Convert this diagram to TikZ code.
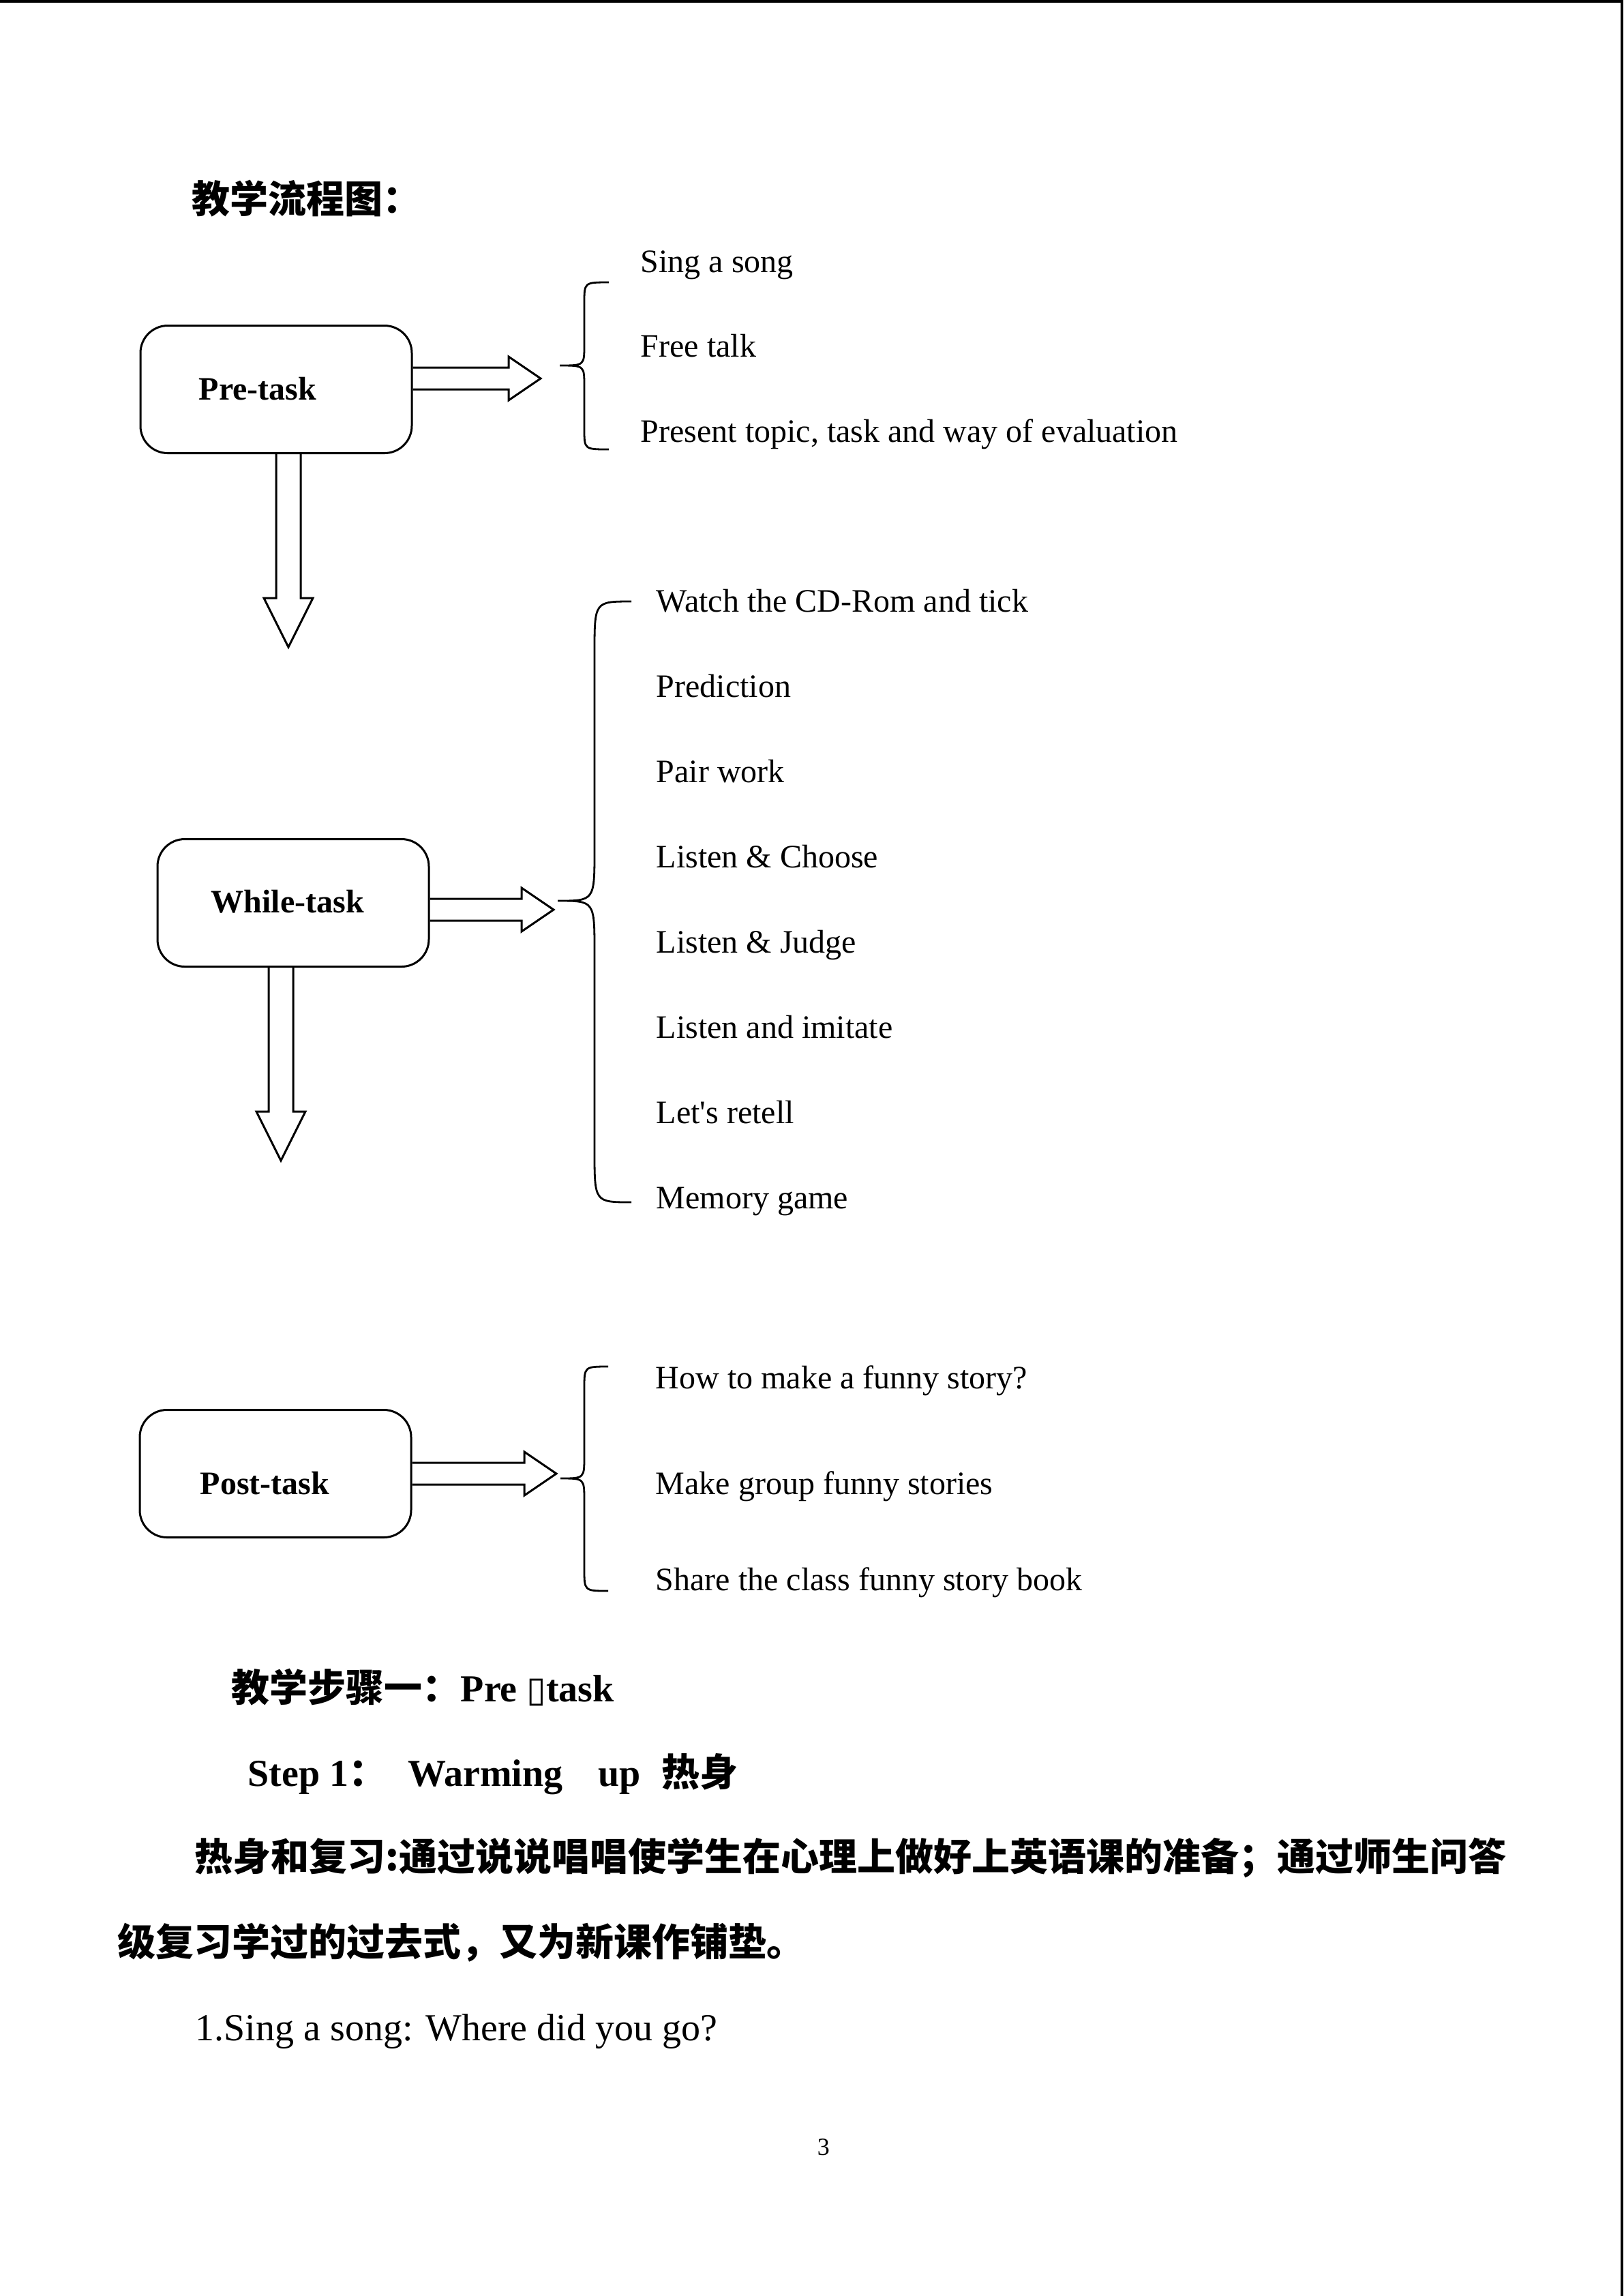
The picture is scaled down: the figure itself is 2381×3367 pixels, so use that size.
\documentclass[tikz,border=0pt]{standalone}
\usepackage{fontspec}
\setmainfont{Liberation Serif}
\newfontfamily\cjk{Noto Sans CJK SC}
\newfontfamily\symb{DejaVu Sans}
\usetikzlibrary{calc}

\tikzset{
	taskbox/.style={draw, line width=0.75pt, rounded corners=10pt, minimum width=99.5pt, minimum height=46.75pt, inner sep=0pt},
	tasklabel/.style={anchor=base west, inner sep=0pt, font=\bfseries\fontsize{12}{14}\selectfont},
	item/.style={anchor=base west, inner sep=0pt, font=\fontsize{12}{14}\selectfont},
	bodytext/.style={anchor=base west, inner sep=0pt, font=\fontsize{14}{16}\selectfont},
	cjktext/.style={anchor=base west, inner sep=0pt, font=\cjk\bfseries\fontsize{14}{16}\selectfont},
	fatarrow/.style={draw, line width=0.75pt, line join=miter},
	bracepath/.style={draw, line width=0.7pt},
	pageline/.style={line width=1pt}
}

% block arrows: start point on the box, tip point
\newcommand{\fatright}[2]{%
	\draw[fatarrow] ($(#1)+(0,-16)$) -- ($(#2)+(-47,-16)$) -- ($(#2)+(-47,-32)$) -- (#2)
		-- ($(#2)+(-47,32)$) -- ($(#2)+(-47,16)$) -- ($(#1)+(0,16)$);}
\newcommand{\fatdown}[2]{%
	\draw[fatarrow] ($(#1)+(-18,0)$) -- ($(#2)+(-18,-72)$) -- ($(#2)+(-36,-72)$) -- (#2)
		-- ($(#2)+(36,-72)$) -- ($(#2)+(18,-72)$) -- ($(#1)+(18,0)$);}
% brace: tip, top, bottom, depth, radius
\newcommand{\taskbrace}[5]{%
	\draw[bracepath] ($(#1)+(2*#4,-#2)$) .. controls ($(#1)+(#4,-#2)$) .. ($(#1)+(#4,-#2+#5)$)
		-- ($(#1)+(#4,-#5)$) .. controls ($(#1)+(#4,0)$) .. (#1)
		.. controls ($(#1)+(#4,0)$) .. ($(#1)+(#4,#5)$)
		-- ($(#1)+(#4,#3-#5)$) .. controls ($(#1)+(#4,#3)$) .. ($(#1)+(2*#4,#3)$);}

\begin{document}
\begin{tikzpicture}[x=0.25pt, y=-0.25pt]
	\useasboundingbox (0,0) rectangle (2381,3367);
	\draw[pageline] (0,2) -- (2378.5,2) -- (2378.5,3367);

	\node[cjktext] (title) at (281,312) {教学流程图：};

	% boxes
	\node[taskbox] (pre) at (405,571) {};
	\node[taskbox] (while) at (430,1324) {};
	\node[taskbox] (post) at (404,2161) {};
	\node[tasklabel] (prelabel) at (291,586) {Pre-task};
	\node[tasklabel] (whilelabel) at (309,1338) {While-task};
	\node[tasklabel] (postlabel) at (293,2191) {Post-task};

	% braces and arrows
	\coordinate (pretip) at (821,536);
	\coordinate (whiletip) at (818,1321);
	\coordinate (posttip) at (822,2168);
	\coordinate (prehead) at (793,555);
	\coordinate (whilehead) at (812,1334);
	\coordinate (posthead) at (816,2161);
	\coordinate (predown) at (423,949);
	\coordinate (whiledown) at (412,1702);

	\taskbrace{pretip}{122}{123}{36}{30}
	\taskbrace{whiletip}{439}{442}{54}{75}
	\taskbrace{posttip}{164}{165}{35}{32}

	\fatright{pre.east |- prehead}{prehead}
	\fatright{while.east |- whilehead}{whilehead}
	\fatright{post.east |- posthead}{posthead}
	\fatdown{pre.south -| predown}{predown}
	\fatdown{while.south -| whiledown}{whiledown}

	% items
	\foreach \y/\t [count=\i] in {399/Sing a song, 523/Free talk, 648/{Present topic, task and way of evaluation}}
		\node[item] (pre\i) at (939,\y) {\t};
	\foreach \t [count=\i from 0] in {Watch the CD-Rom and tick, Prediction, Pair work, Listen \& Choose,
			Listen \& Judge, Listen and imitate, Let\textquotesingle s retell, Memory game}
		\node[item] (while\i) at (962,{897+125*\i}) {\t};
	\foreach \y/\t [count=\i] in {2036/How to make a funny story?, 2191/Make group funny stories, 2332/Share the class funny story book}
		\node[item] (post\i) at (961,\y) {\t};

	% text below
	\node[bodytext, font=\bfseries\fontsize{14}{16}\selectfont] (stephead) at (339,2495)
		{{\cjk 教学步骤一：}Pre {\symb\mdseries\fontsize{13}{14}\selectfont ▯}task};
	\node[bodytext, font=\bfseries\fontsize{14}{16}\selectfont] (step) at (363,2619)
		{Step 1{\cjk ：}\hspace{7.7pt}Warming\hspace{13pt}up\hspace{7.7pt}{\cjk 热身}};
	\node[cjktext] (para1) at (285,2743)
		{热身和复习:通过说说唱唱使学生在心理上做好上英语课的准备；通过师生问答};
	\node[cjktext] (para2) at (172,2868) {级复习学过的过去式，又为新课作铺垫。};
	\node[bodytext] (song) at (286,2992) {1.Sing a song: Where did you go?};
	\node[anchor=base west, inner sep=0pt, font=\fontsize{9}{10}\selectfont] (pagenum) at (1198,3160) {3};
\end{tikzpicture}
\end{document}
